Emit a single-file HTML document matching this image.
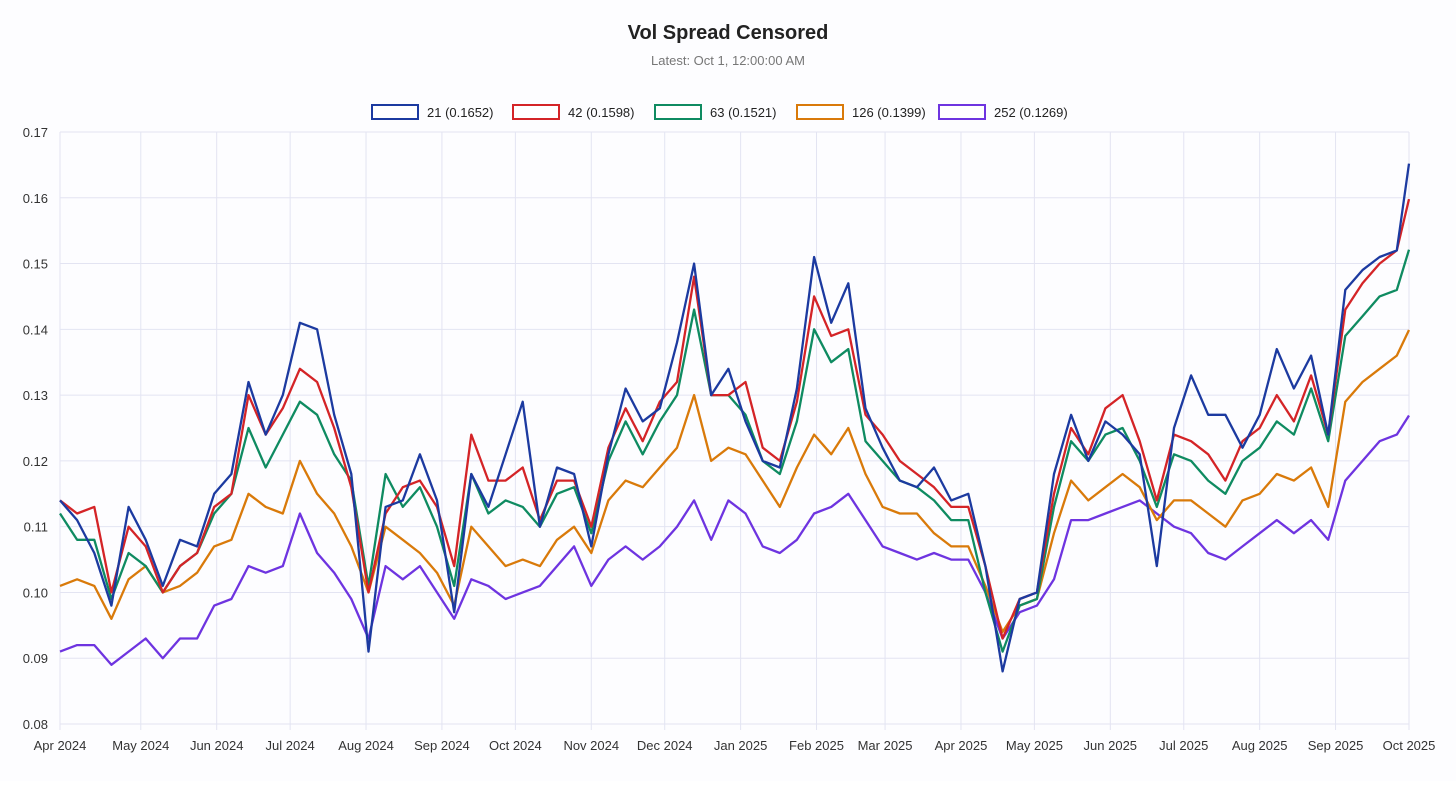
<!DOCTYPE html>
<html><head><meta charset="utf-8">
<style>
body{margin:0;background:#fff;font-family:"Liberation Sans",sans-serif;}
#wrap{position:relative;width:1456px;height:781px;background:#fdfdff;}
</style></head>
<body>
<div id="wrap">
<svg id="svg" width="1456" height="781">
<text x="728" y="39" text-anchor="middle" font-size="20" font-weight="bold" fill="#222">Vol Spread Censored</text>
<text x="728" y="65" text-anchor="middle" font-size="13" fill="#777">Latest: Oct 1, 12:00:00 AM</text>
<g id="grid"></g><g id="series"></g><g id="legend"></g>
</svg>
</div>
<script>
const days=[];for(let i=0;i<79;i++)days.push(i*7-3);days.push(548);
const s21=[.114,.111,.106,.098,.113,.108,.101,.108,.107,.115,.118,.132,.124,.130,.141,.140,.127,.118,.091,.113,.114,.121,.114,.097,.118,.113,.121,.129,.110,.119,.118,.107,.121,.131,.126,.128,.138,.150,.130,.134,.126,.120,.119,.131,.151,.141,.147,.128,.122,.117,.116,.119,.114,.115,.104,.088,.099,.100,.118,.127,.120,.126,.124,.121,.104,.125,.133,.127,.127,.122,.127,.137,.131,.136,.124,.146,.149,.151,.152,.1652];
const s42=[.114,.112,.113,.100,.110,.107,.100,.104,.106,.113,.115,.130,.124,.128,.134,.132,.125,.116,.100,.112,.116,.117,.113,.104,.124,.117,.117,.119,.111,.117,.117,.110,.122,.128,.123,.129,.132,.148,.130,.130,.132,.122,.120,.129,.145,.139,.140,.127,.124,.120,.118,.116,.113,.113,.104,.093,.099,.100,.115,.125,.121,.128,.130,.123,.114,.124,.123,.121,.117,.123,.125,.130,.126,.133,.124,.143,.147,.150,.152,.1598];
const s63=[.112,.108,.108,.099,.106,.104,.100,.104,.106,.112,.115,.125,.119,.124,.129,.127,.121,.117,.101,.118,.113,.116,.110,.101,.118,.112,.114,.113,.110,.115,.116,.109,.120,.126,.121,.126,.130,.143,.130,.130,.127,.120,.118,.126,.140,.135,.137,.123,.120,.117,.116,.114,.111,.111,.100,.091,.098,.099,.113,.123,.120,.124,.125,.120,.113,.121,.120,.117,.115,.120,.122,.126,.124,.131,.123,.139,.142,.145,.146,.1521];
const s126=[.101,.102,.101,.096,.102,.104,.100,.101,.103,.107,.108,.115,.113,.112,.120,.115,.112,.107,.100,.110,.108,.106,.103,.098,.110,.107,.104,.105,.104,.108,.110,.106,.114,.117,.116,.119,.122,.130,.120,.122,.121,.117,.113,.119,.124,.121,.125,.118,.113,.112,.112,.109,.107,.107,.101,.094,.098,.099,.109,.117,.114,.116,.118,.116,.111,.114,.114,.112,.110,.114,.115,.118,.117,.119,.113,.129,.132,.134,.136,.1399];
const s252=[.091,.092,.092,.089,.091,.093,.090,.093,.093,.098,.099,.104,.103,.104,.112,.106,.103,.099,.093,.104,.102,.104,.100,.096,.102,.101,.099,.100,.101,.104,.107,.101,.105,.107,.105,.107,.110,.114,.108,.114,.112,.107,.106,.108,.112,.113,.115,.111,.107,.106,.105,.106,.105,.105,.100,.093,.097,.098,.102,.111,.111,.112,.113,.114,.112,.110,.109,.106,.105,.107,.109,.111,.109,.111,.108,.117,.120,.123,.124,.1269];
const labels=["21 (0.1652)","42 (0.1598)","63 (0.1521)","126 (0.1399)","252 (0.1269)"];
const colors=["#1c3aa0","#d42427","#0f8b61","#d97a0a","#6e34e0"];
const yTicks=[0.08,0.09,0.10,0.11,0.12,0.13,0.14,0.15,0.16,0.17];
const monthDays=[0,30,61,91,122,153,183,214,244,275,306,334,365,395,426,456,487,518,548];
const monthLabels=["Apr 2024","May 2024","Jun 2024","Jul 2024","Aug 2024","Sep 2024","Oct 2024","Nov 2024","Dec 2024","Jan 2025","Feb 2025","Mar 2025","Apr 2025","May 2025","Jun 2025","Jul 2025","Aug 2025","Sep 2025","Oct 2025"];
const X0=60,X1=1409,Y0=724,Y1=132,D0=-3,D1=548;
const xs=d=>X0+((d-D0)/(D1-D0))*(X1-X0);
const ys=v=>Y0-(v-0.08)/0.09*(Y0-Y1);
const NS="http://www.w3.org/2000/svg";
const grid=document.getElementById('grid');
function mk(t,a,p){const e=document.createElementNS(NS,t);for(const k in a)e.setAttribute(k,a[k]);p.appendChild(e);return e;}
yTicks.forEach((v,i)=>{
 const l=mk('line',{x1:X0,x2:X1,y1:ys(v),y2:ys(v),stroke:'#e3e4f2','stroke-width':1},grid);
 
 
 const t=mk('text',{x:48,y:ys(v)+5,'text-anchor':'end','font-size':13,fill:'#333'},grid);
 t.textContent=v.toFixed(2);
 
 
});
monthDays.forEach((d,i)=>{
 const x=i===0?X0:xs(d);
 const l=mk('line',{x1:x,x2:x,y1:Y1,y2:Y0+6,stroke:'#e3e4f2','stroke-width':1},grid);
 
 
 const t=mk('text',{x:x,y:750,'text-anchor':'middle','font-size':13,fill:'#333'},grid);
 t.textContent=monthLabels[i];
 
 
});
const sg=document.getElementById('series');
[s21,s42,s63,s126,s252].slice().reverse().forEach((s,ri)=>{
 const i=4-ri;
 const d=s.map((v,k)=>(k?'L':'M')+xs(days[k]).toFixed(1)+','+ys(v).toFixed(1)).join(' ');
 const p=mk('path',{d:d,fill:'none',stroke:colors[i],'stroke-width':2.3,'stroke-linejoin':'round'},sg);
 
 
});
const lg=document.getElementById('legend');
const lx=[372,513,655,797,939];
labels.forEach((lab,i)=>{
 const g=mk('g',{},lg);
 
 
 mk('rect',{x:lx[i],y:105,width:46,height:14,fill:'#fff',stroke:colors[i],'stroke-width':2},g);
 const t=mk('text',{x:lx[i]+55,y:117,'font-size':13,fill:'#222'},g);
 t.textContent=lab;
});
</script>
</body></html>
